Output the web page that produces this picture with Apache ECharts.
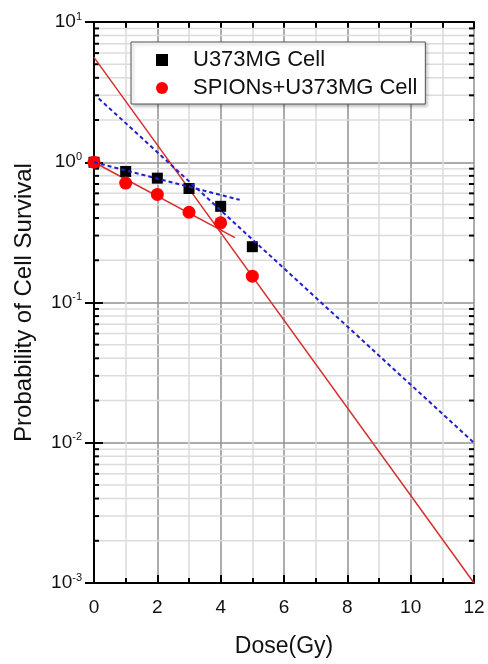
<!DOCTYPE html>
<html lang="en">
<head>
    <meta charset="UTF-8">
    <script type="text/javascript" src="https://cdn.jsdelivr.net/npm/echarts@6/dist/echarts.min.js"></script>
    <style>
        html, body { margin: 0; padding: 0; background: #fff; }
        #main { width: 488px; height: 664px; }
    </style>
</head>
<body>
    <div id="main"></div>

    <script type="text/javascript">
        // measured points
        var doses = [0, 1, 2, 3, 4, 5];
        var cellU373 = [1.0, 0.86, 0.77, 0.65, 0.485, 0.25];
        var cellSpions = [1.0, 0.71, 0.59, 0.44, 0.37, 0.154];

        // fitted lines (end points)
        var redLowX = [0, 4.45], redLowY = [1.0, 0.29];
        var redHighX = [0, 12], redHighY = [5.6, 0.001];
        var blueLowX = [0, 4.6], blueLowY = [1.0, 0.54];
        var blueHighX = [0.15, 12], blueHighY = [2.85, 0.01];

        // minor log ticks 2..9 in every decade
        var decades = [0.001, 0.01, 0.1, 1];
        var minorSteps = [2, 3, 4, 5, 6, 7, 8, 9];

        var font = 'Liberation Sans, Arial, sans-serif';

        function pairs(xs, ys) {
            return xs.map(function (x, i) { return [x, ys[i]]; });
        }

        var minorY = [];
        decades.forEach(function (d) {
            minorSteps.forEach(function (m) { minorY.push([0, d * m]); });
        });

        var myChart = echarts.init(document.getElementById('main'));

        var axisLine = { lineStyle: { color: '#000', width: 2 } };

        var option = {
            animation: false,
            backgroundColor: '#fff',
            grid: { left: 94, right: 14, top: 22, bottom: 81 },
            legend: {
                data: ['U373MG Cell', 'SPIONs+U373MG Cell'],
                orient: 'vertical',
                left: 131,
                top: 42,
                padding: [7, 8, 5, 25],
                itemWidth: 12,
                itemHeight: 12,
                itemGap: 6,
                backgroundColor: '#fff',
                borderColor: '#555',
                borderWidth: 1,
                shadowColor: 'rgba(0,0,0,0.25)',
                shadowBlur: 3,
                shadowOffsetX: 2,
                shadowOffsetY: 2,
                textStyle: { fontFamily: font, fontSize: 22, color: '#111', lineHeight: 22, padding: [0, 0, 0, 20] }
            },
            xAxis: [
                {
                    type: 'value',
                    min: 0, max: 12, interval: 2,
                    name: 'Dose(Gy)',
                    nameLocation: 'middle',
                    nameGap: 52,
                    nameTextStyle: { fontFamily: font, fontSize: 23, color: '#111' },
                    axisLine: axisLine,
                    axisTick: { inside: true, length: 8, lineStyle: { color: '#000', width: 2 } },
                    minorTick: { show: true, splitNumber: 2, length: 5, lineStyle: { color: '#000', width: 2 } },
                    axisLabel: { fontFamily: font, fontSize: 19, color: '#111', margin: 15 },
                    splitLine: { show: true, lineStyle: { color: '#909090', width: 1.5 } },
                    minorSplitLine: { show: true, lineStyle: { color: '#dcdcdc', width: 1.5 } }
                },
                {
                    type: 'value',
                    position: 'top',
                    min: 0, max: 12, interval: 2,
                    axisLine: axisLine,
                    axisTick: { inside: true, length: 7, lineStyle: { color: '#000', width: 2 } },
                    minorTick: { show: true, splitNumber: 2, length: 6, lineStyle: { color: '#000', width: 2 } },
                    axisLabel: { show: false },
                    splitLine: { show: false }
                }
            ],
            yAxis: [
                {
                    type: 'log',
                    logBase: 10,
                    min: 0.001, max: 10,
                    name: 'Probability of Cell Survival',
                    nameLocation: 'middle',
                    nameGap: 58,
                    nameTextStyle: { fontFamily: font, fontSize: 24, color: '#111' },
                    axisLine: axisLine,
                    axisTick: { inside: true, length: 9, lineStyle: { color: '#000', width: 2 } },
                    axisLabel: {
                        margin: 12,
                        formatter: function (v) {
                            var e = Math.round(Math.log10(v));
                            return '{b|10}{s|' + e + '}';
                        },
                        rich: {
                            b: { fontFamily: font, fontSize: 19, color: '#111', lineHeight: 22 },
                            s: { fontFamily: font, fontSize: 11, color: '#111', lineHeight: 12, verticalAlign: 'top' }
                        }
                    },
                    splitLine: { show: true, lineStyle: { color: '#909090', width: 1.5 } }
                },
                {
                    type: 'log',
                    logBase: 10,
                    position: 'right',
                    min: 0.001, max: 10,
                    axisLine: axisLine,
                    axisTick: { inside: true, length: 9, lineStyle: { color: '#000', width: 2 } },
                    axisLabel: { show: false },
                    splitLine: { show: false }
                }
            ],
            series: [
                {
                    // minor grid lines and minor ticks on the log axis
                    type: 'custom',
                    silent: true,
                    z: 1,
                    data: minorY,
                    renderItem: function (params, api) {
                        var v = api.value(1);
                        var a = api.coord([0, v]);
                        var b = api.coord([12, v]);
                        var tk = { stroke: '#000', lineWidth: 2 };
                        return {
                            type: 'group',
                            children: [
                                { type: 'line', shape: { x1: a[0], y1: a[1], x2: b[0], y2: b[1] }, style: { stroke: '#dcdcdc', lineWidth: 1.5 } },
                                { type: 'line', shape: { x1: a[0], y1: a[1], x2: a[0] + 5, y2: a[1] }, style: tk },
                                { type: 'line', shape: { x1: b[0] - 5, y1: b[1], x2: b[0], y2: b[1] }, style: tk }
                            ]
                        };
                    }
                },
                {
                    name: 'fit1', type: 'line', data: pairs(redLowX, redLowY), showSymbol: false, z: 3,
                    lineStyle: { color: '#d43030', width: 1.5 }
                },
                {
                    name: 'fit2', type: 'line', data: pairs(redHighX, redHighY), showSymbol: false, z: 3,
                    lineStyle: { color: '#d43030', width: 1.5 }
                },
                {
                    name: 'U373MG Cell', type: 'scatter', data: pairs(doses, cellU373),
                    symbol: 'rect', symbolSize: 11, z: 4,
                    itemStyle: { color: '#000', opacity: 1 }
                },
                {
                    name: 'SPIONs+U373MG Cell', type: 'scatter', data: pairs(doses, cellSpions),
                    symbol: 'circle', symbolSize: 13, z: 4,
                    itemStyle: { color: '#ff0000', opacity: 1 }
                },
                {
                    name: 'fit3', type: 'line', data: pairs(blueLowX, blueLowY), showSymbol: false, z: 5,
                    lineStyle: { color: '#2020cc', width: 2, type: [4, 3] }
                },
                {
                    name: 'fit4', type: 'line', data: pairs(blueHighX, blueHighY), showSymbol: false, z: 5,
                    lineStyle: { color: '#2020cc', width: 2, type: [4, 3] }
                }
            ]
        };
        myChart.setOption(option);
    </script>
</body>
</html>
